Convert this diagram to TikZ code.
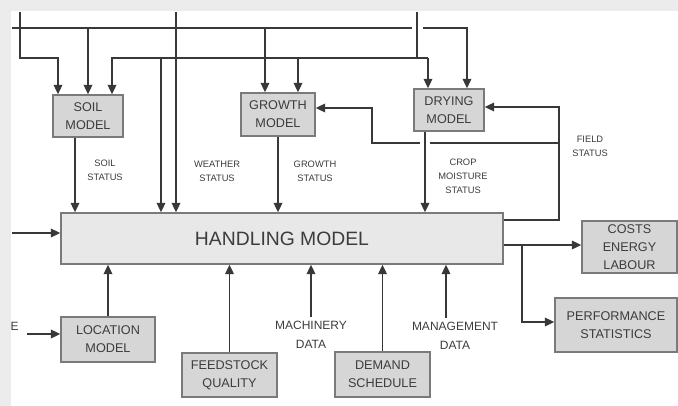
\documentclass[tikz,border=0pt]{standalone}
\usepackage{fontspec}
\setmainfont{Liberation Sans}
\usetikzlibrary{arrows.meta}

\definecolor{boxfill}{HTML}{D6D6D6}
\definecolor{handfill}{HTML}{E8E8E8}
\definecolor{boxline}{HTML}{7A7A7A}
\definecolor{wirecol}{HTML}{383838}
\definecolor{ink}{HTML}{3C3C3C}
\definecolor{band}{HTML}{ECECEC}

\tikzset{
  model/.style={draw=boxline, fill=boxfill, line width=1.2pt, align=center, text=ink, inner sep=0pt,
    font=\fontsize{9.5}{13.5}\selectfont},
  status/.style={align=center, text=ink, inner sep=0pt, font=\fontsize{7}{10.5}\selectfont},
  datalbl/.style={align=center, text=ink, inner sep=3pt, font=\fontsize{9}{14}\selectfont},
  wire/.style={draw=wirecol, line width=1.1pt},
  feed/.style={wire, -{Triangle[length=7pt,width=6.5pt]}},
}

\begin{document}
\begin{tikzpicture}[x=0.75pt,y=0.75pt,yscale=-1,xscale=1]
\useasboundingbox (0,0) rectangle (678,406);

% models
\node[model, minimum width=52.5pt, minimum height=31.5pt] (soil) at (88,116) {SOIL\\MODEL};
\node[model, minimum width=55.5pt, minimum height=32.25pt] (growth) at (278,114.5) {GROWTH\\MODEL};
\node[model, minimum width=52.5pt, minimum height=31.5pt] (drying) at (449,110) {DRYING\\MODEL};
\node[model, fill=handfill, minimum width=331.5pt, minimum height=38.25pt, font=\fontsize{14.5}{16}\selectfont] (handling) at (282,238.5) {HANDLING MODEL};
\node[model, minimum width=70.5pt, minimum height=33.75pt] (location) at (108,339.5) {LOCATION\\MODEL};
\node[model, minimum width=71.25pt, minimum height=33pt] (feedstock) at (229.5,375) {FEEDSTOCK\\QUALITY};
\node[model, minimum width=71.25pt, minimum height=33.75pt] (demand) at (382.5,374.5) {DEMAND\\SCHEDULE};
\node[model, minimum width=71.25pt, minimum height=39pt] (costs) at (629.5,247) {COSTS\\ENERGY\\LABOUR};
\node[model, minimum width=91.5pt, minimum height=40.5pt] (perf) at (616,325) {PERFORMANCE\\STATISTICS};

% labels
\node[status] (soilst) at (105,170) {SOIL\\STATUS};
\node[status] (weatherst) at (217,171) {WEATHER\\STATUS};
\node[status] (growthst) at (315,171) {GROWTH\\STATUS};
\node[status] (moistst) at (463,176) {CROP\\MOISTURE\\STATUS};
\node[status] (fieldst) at (590,146) {FIELD\\STATUS};
\node[datalbl] (machinery) at (311,335) {MACHINERY\\DATA};
\node[datalbl] (mgmt) at (455,336) {MANAGEMENT\\DATA};
\node[datalbl, inner sep=0pt, anchor=east] (cut) at (19,326) {E};

% inputs from above
\coordinate (inA) at (20,12);
\coordinate (inB) at (176,12);
\coordinate (inC) at (417,12);
\coordinate (a1) at (20,58);
\coordinate (a2) at (58,58);
\draw[feed] (inA) -- (a1) -- (a2) -- (soil.north -| a2);
\draw[feed] (inB) -- (handling.north -| inB);

% upper bus
\coordinate (t0) at (12,28);
\coordinate (t1) at (88,28);
\coordinate (t2) at (265,28);
\coordinate (tg1) at (412,28);
\coordinate (tg2) at (423,28);
\coordinate (t3) at (467,28);
\draw[wire] (t0) -- (tg1);
\draw[feed] (tg2) -- (t3) -- (drying.north -| t3);
\draw[feed] (t1) -- (soil.north -| t1);
\draw[feed] (t2) -- (growth.north -| t2);

% lower bus
\coordinate (m0) at (112,58);
\coordinate (m1) at (161,58);
\coordinate (m2) at (298,58);
\coordinate (m3) at (428,58);
\draw[wire] (inC) -- (inC |- m3);
\draw[feed] (m3) -- (m0) -- (soil.north -| m0);
\draw[feed] (m3) -- (drying.north -| m3);
\draw[feed] (m1) -- (handling.north -| m1);
\draw[feed] (m2) -- (growth.north -| m2);

% status to handling
\coordinate (s1) at (75,0);
\coordinate (d1) at (425,0);
\draw[feed] (soil.south -| s1) -- (handling.north -| s1);
\draw[feed] (growth.south) -- (handling.north -| growth.south);
\draw[feed] (drying.south -| d1) -- (handling.north -| d1);

% field status
\coordinate (f0) at (559,220);
\coordinate (f1) at (559,107);
\coordinate (f2) at (559,143);
\coordinate (fg1) at (430,143);
\coordinate (fg2) at (420,143);
\coordinate (f3) at (372,143);
\coordinate (f4) at (372,108);
\draw[feed] (handling.east |- f0) -- (f0) -- (f1) -- (drying.east |- f1);
\draw[wire] (f2) -- (fg1);
\draw[feed] (fg2) -- (f3) -- (f4) -- (growth.east |- f4);

% inputs from left and below
\coordinate (h0) at (12,233);
\coordinate (l0) at (27,334);
\coordinate (g0) at ([xshift=-6.75pt]mgmt.north);
\draw[feed] (h0) -- (handling.west |- h0);
\draw[feed] (l0) -- (location.west |- l0);
\draw[feed] (location.north) -- (handling.south -| location.north);
\draw[feed] (feedstock.north) -- (handling.south -| feedstock.north);
\draw[feed] (machinery.north) -- (handling.south -| machinery.north);
\draw[feed] (demand.north) -- (handling.south -| demand.north);
\draw[feed] (g0) -- (handling.south -| g0);

% outputs
\coordinate (o1) at (522,245);
\coordinate (o2) at (522,322);
\draw[feed] (handling.east |- o1) -- (costs.west |- o1);
\draw[feed] (o1) -- (o2) -- (perf.west |- o2);

% page edges
\fill[band] (0,0) rectangle (678,11);
\fill[band] (0,0) rectangle (11,406);

\end{tikzpicture}
\end{document}
